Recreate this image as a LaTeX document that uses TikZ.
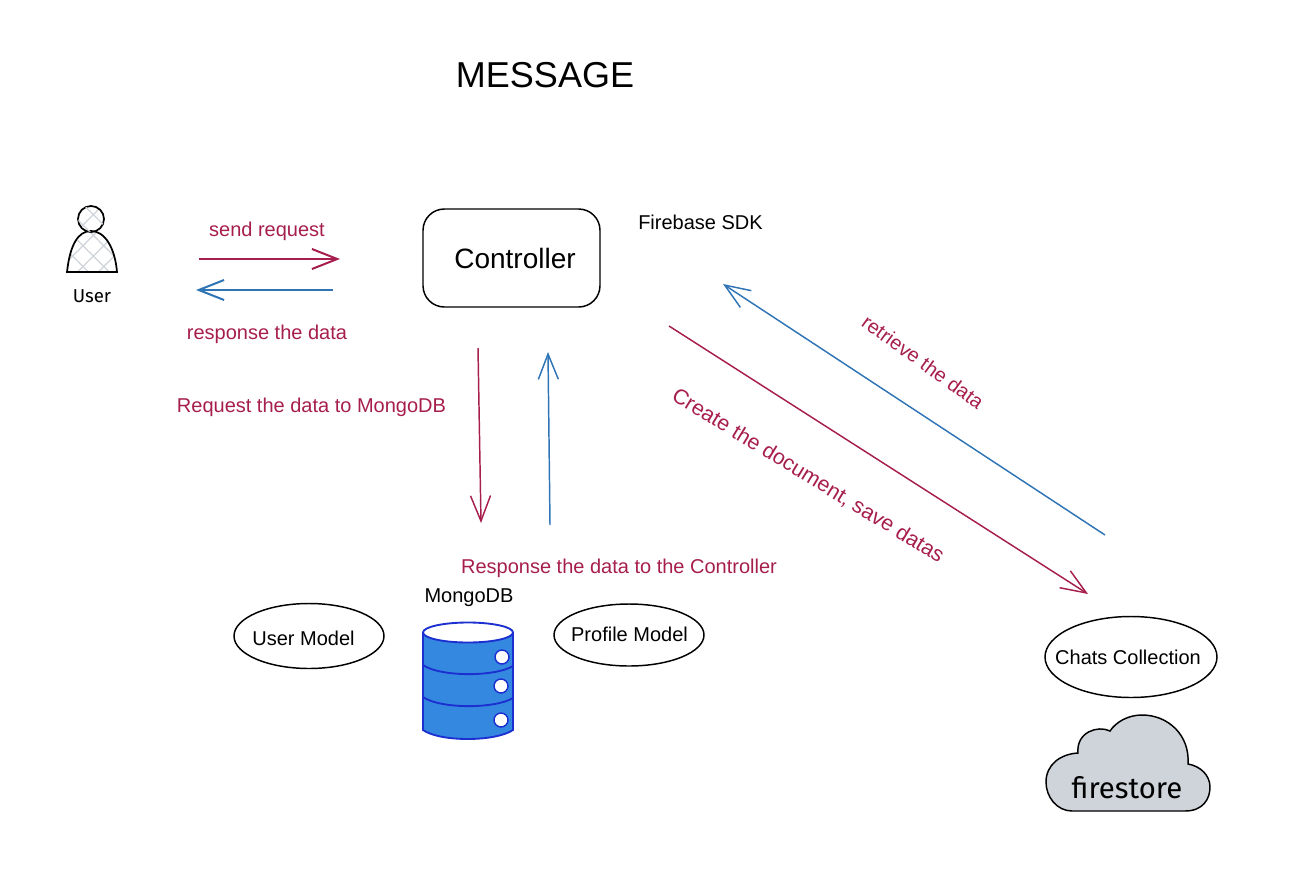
\documentclass[tikz,border=0pt]{standalone}
\usepackage{fontspec}
\setmainfont{Liberation Sans}
\newfontfamily\handfont{Fira Sans}
\usetikzlibrary{shapes,positioning,calc,arrows.meta,patterns.meta}
\definecolor{reqred}{HTML}{A61E4D}
\definecolor{resblue}{HTML}{2F74B5}
\definecolor{dbblue}{HTML}{3588E0}
\definecolor{dbline}{HTML}{1C2FD0}
\definecolor{cloudgray}{HTML}{CED4DA}
\tikzset{
    reqarrow/.style={draw=reqred, line width=1.1pt, -{Straight Barb[length=19pt,width=15pt]}},
    resarrow/.style={draw=resblue, line width=1.1pt, -{Straight Barb[length=19pt,width=15pt]}},
    reqlabel/.style={text=reqred, font=\fontsize{15}{18}\selectfont, inner sep=0pt},
    plainlabel/.style={font=\fontsize{15}{18}\selectfont, inner sep=0pt},
    model/.style={ellipse, draw, line width=1.1pt, inner sep=0pt},
    hatched/.style={pattern={Lines[angle=45,distance=11pt,line width=0.9pt]}, pattern color=cloudgray},
    hatchedb/.style={pattern={Lines[angle=-45,distance=11pt,line width=0.9pt]}, pattern color=cloudgray},
}
\begin{document}
\begin{tikzpicture}[x=0.75pt, y=-0.75pt]
  \useasboundingbox (0,0) rectangle (1314,868);

  \node [font=\fontsize{27}{32}\selectfont, inner sep=0pt] (messagetitle) at (545,75) {MESSAGE};

  \node [draw, line width=1.1pt, rounded corners=16pt, minimum width=132.75pt, minimum height=73.5pt] (controller) at (511.5,258) {};
  \node [font=\fontsize{21}{25}\selectfont, inner sep=0pt] (controllertitle) at (515,258) {Controller};
  \node [plainlabel, anchor=west] (firebase) at (638,222) {Firebase SDK};

  % USER
  \fill [hatched] (67,272) .. controls (70,245) and (78,231) .. (91,231) .. controls (105,231) and (115,248) .. (117,272) -- cycle;
  \fill [hatchedb] (67,272) .. controls (70,245) and (78,231) .. (91,231) .. controls (105,231) and (115,248) .. (117,272) -- cycle;
  \draw [line width=1.3pt] (67,272) .. controls (70,245) and (78,231) .. (91,231) .. controls (105,231) and (115,248) .. (117,272) -- cycle;
  \node [circle, draw, line width=1.3pt, minimum size=19.5pt, inner sep=0pt, hatched] (userhead) at (91,219) {};
  \node [circle, minimum size=19.5pt, inner sep=0pt, hatchedb] (userheadb) at (91,219) {};
  \node [font=\handfont\fontsize{14}{16}\selectfont, inner sep=0pt] (user) at (92,296) {User};

  % MONGODB
  \fill [dbblue] (423,633) -- (423,730) .. controls (440,742) and (495,742) .. (513,730) -- (513,633) -- cycle;
  \draw [dbline, line width=1.4pt] (423,633) -- (423,730) .. controls (440,742) and (495,742) .. (513,730) -- (513,633);
  \draw [dbline, line width=1.4pt, fill=white] (468,632.5) ellipse [x radius=45, y radius=10];
  \draw [dbline, line width=1.4pt] (423,665) .. controls (440,677) and (495,677) .. (513,666);
  \draw [dbline, line width=1.4pt] (423,697) .. controls (440,709) and (495,709) .. (513,698);
  \draw [dbline, line width=1.1pt, fill=white] (502,657) circle [radius=7];
  \draw [dbline, line width=1.1pt, fill=white] (501,686) circle [radius=7];
  \draw [dbline, line width=1.1pt, fill=white] (501,720) circle [radius=7];
  \node [plainlabel] (mongodb) at (469,598) {MongoDB};

  \node [model, minimum width=112.5pt, minimum height=48.75pt] (usermodel) at (309,636) {};
  \node [plainlabel] (usermodeltitle) at (303.5,638) {User Model};
  \node [model, minimum width=112.5pt, minimum height=46.5pt] (profilemodel) at (629,635) {};
  \node [plainlabel] (profilemodeltitle) at (629.5,634) {Profile Model};

  % FIRESTORE
  \node [model, minimum width=129pt, minimum height=60.75pt] (chats) at (1131,657) {};
  \node [plainlabel] (chatstitle) at (1128,657) {Chats Collection};
  \draw [line width=1.1pt, fill=cloudgray] (1072,811) -- (1185,811)
    .. controls (1203,811) and (1210,799) .. (1210,787)
    .. controls (1210,775) and (1200,766) .. (1188,764)
    .. controls (1190,735) and (1168,715) .. (1142,715)
    .. controls (1128,715) and (1116,722) .. (1110,731)
    .. controls (1098,725) and (1076,732) .. (1078,753)
    .. controls (1060,754) and (1046,765) .. (1046,782)
    .. controls (1046,797) and (1057,811) .. (1072,811) -- cycle;
  \node [font=\handfont\fontsize{22}{26}\selectfont, inner sep=0pt] (firestore) at (1127,788) {firestore};

  % FLECHAS
  \coordinate (sendstart) at (199,259);
  \coordinate (sendend) at (340,259);
  \coordinate (respstart) at (333,290);
  \coordinate (respend) at (196,290);
  \coordinate (mongostart) at (478,348);
  \coordinate (mongoend) at (481,523);
  \coordinate (ctrlstart) at (550,525);
  \coordinate (ctrlend) at (548,352);
  \coordinate (savestart) at (669,326);
  \coordinate (saveend) at (1088,594);
  \coordinate (retrievestart) at (1105,535);
  \coordinate (retrieveend) at (723,284);
  \draw [reqarrow, line width=1.5pt] (sendstart) -- (sendend);
  \draw [resarrow, line width=1.5pt] (respstart) -- (respend);
  \draw [reqarrow] (mongostart) -- (mongoend);
  \draw [resarrow] (ctrlstart) -- (ctrlend);
  \draw [reqarrow] (savestart) -- (saveend);
  \draw [resarrow] (retrievestart) -- (retrieveend);

  \node [reqlabel] (sendlabel) at (267,231) {send request};
  \node [reqlabel] (resplabel) at (267,334) {response the data};
  \node [reqlabel] (mongolabel) at (311.5,407) {Request the data to MongoDB};
  \node [reqlabel] (ctrllabel) at (619,568) {Response the data to the Controller};
  \node [reqlabel, rotate=-36] (retrievelabel) at (923,362) {retrieve the data};
  \node [reqlabel, rotate=-31.4, font=\fontsize{16}{19}\selectfont] (savelabel) at (808,476) {Create the document, save datas};
\end{tikzpicture}
\end{document}
